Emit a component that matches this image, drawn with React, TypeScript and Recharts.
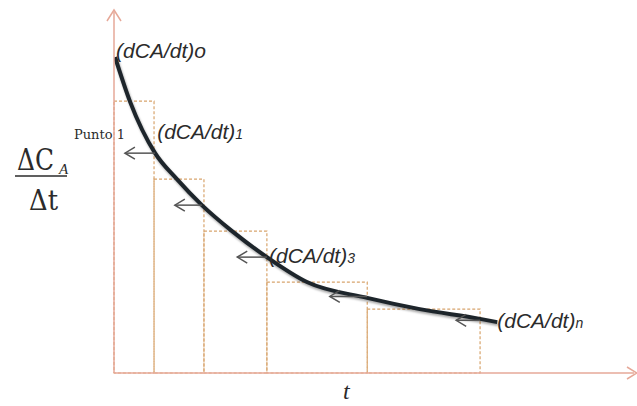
import {
  ComposedChart,
  Line,
  XAxis,
  YAxis,
  ReferenceArea,
  ReferenceLine,
  ReferenceDot,
} from 'recharts';

// step edges (t) and heights of the dashed rectangles
const barEdges = [0, 7.7, 17.3, 29.4, 48.7, 70.4];
const barHeights = [75.3, 53.7, 39.3, 25.2, 17.7];

// points
const curveT = [0.2, 3.1, 7.9, 12.1, 16.9, 22.7, 29.4, 37.1, 48.7, 58.8, 70.4, 73.7];
const curveRate = [87.5, 75.1, 60.9, 53.7, 46.5, 39.3, 32.1, 25.2, 20.8, 17.7, 15.0, 14.1];

// small left-pointing arrows
const arrowTail = [7.9, 16.9, 29.4, 48.7, 70.4];
const arrowHead = [2.1, 11.7, 23.7, 41.5, 65.8];
const arrowY = [60.9, 46.5, 32.1, 21.2, 14.6];

// curve labels
const labelT = [0.4, 8.3, 29.8, 73.7];
const labelY = [87.3, 64.8, 30.5, 12.5];
const labelSub = ['o', '1', '3', 'n'];

const data = curveT.map((t, i) => ({ t, rate: curveRate[i] }));

const AXIS = '#e6a898';
const BOX = '#d8a46c';
const INK = '#2b2b2b';
const SERIF = "'Liberation Serif', 'Times New Roman', serif";
const GREEK = "'DejaVu Serif', serif";

const ArrowShape = (p: any) => (
  <g>
    <line x1={p.x1} y1={p.y1} x2={p.x2} y2={p.y2} stroke="#555" strokeWidth={1.5} />
    <path
      d={`M${p.x2 + 10},${p.y2 - 6} L${p.x2},${p.y2} L${p.x2 + 10},${p.y2 + 6}`}
      fill="none"
      stroke="#555"
      strokeWidth={1.5}
    />
  </g>
);

const makeLabel = (sub: string) => (p: any) => (
  <text
    x={p.cx}
    y={p.cy}
    fontFamily="'Liberation Sans', Arial, sans-serif"
    fontStyle="italic"
    fontSize={21}
    fill={INK}
  >
    (dCA/dt)
    <tspan fontSize={sub === 'o' ? 21 : 14}>{sub}</tspan>
  </text>
);

const YLabel = (props: any) => {
  const x = props.viewBox.x;
  return (
    <g>
      <text
        x={x + 17}
        y={170}
        fontFamily={GREEK}
        fontSize={30}
        fill={INK}
        textLength={37}
        lengthAdjust="spacingAndGlyphs"
      >
        ΔC
      </text>
      <text x={x + 59} y={174} fontFamily={SERIF} fontSize={15} fontStyle="italic" fill={INK}>
        A
      </text>
      <line x1={x + 15} y1={176} x2={x + 67} y2={176} stroke={INK} strokeWidth={1.5} />
      <text
        x={x + 29}
        y={210}
        fontFamily={GREEK}
        fontSize={28}
        fill={INK}
        textLength={29}
        lengthAdjust="spacingAndGlyphs"
      >
        Δt
      </text>
    </g>
  );
};

const XLabel = () => (
  <text x={343} y={399} fontFamily={SERIF} fontStyle="italic" fontSize={24} fill={INK}>
    t
  </text>
);

export default function App() {
  return (
    <div style={{ position: 'absolute', left: 0, top: 0, width: 637, height: 406, background: '#fff' }}>
      <ComposedChart
        width={637}
        height={406}
        data={data}
        margin={{ top: 12, right: 3, bottom: 0, left: 0 }}
      >
        <XAxis
          dataKey="t"
          type="number"
          domain={[0, 100]}
          allowDataOverflow
          height={33}
          tick={false}
          tickLine={false}
          axisLine={{ stroke: AXIS, strokeWidth: 1.5 }}
          label={{ content: XLabel }}
        />
        <YAxis
          type="number"
          domain={[0, 100]}
          allowDataOverflow
          width={114}
          tick={false}
          tickLine={false}
          axisLine={{ stroke: AXIS, strokeWidth: 1.5 }}
          label={{ content: YLabel }}
        />
        {barHeights.map((h, i) => (
          <ReferenceArea
            key={`b${i}`}
            x1={barEdges[i]}
            x2={barEdges[i + 1]}
            y1={0}
            y2={h}
            fill="none"
            fillOpacity={0}
            stroke={BOX}
            strokeWidth={1.2}
            strokeDasharray="3 2"
            ifOverflow="visible"
          />
        ))}
        <ReferenceDot
          x={100}
          y={0}
          r={0}
          ifOverflow="visible"
          shape={(p: any) => (
            <path
              d={`M${p.cx - 7},${p.cy - 6} L${p.cx + 3},${p.cy} L${p.cx - 7},${p.cy + 6}`}
              fill="none"
              stroke={AXIS}
              strokeWidth={1.5}
            />
          )}
        />
        <ReferenceDot
          x={0}
          y={100}
          r={0}
          ifOverflow="visible"
          shape={(p: any) => (
            <path
              d={`M${p.cx - 7},${p.cy + 9} L${p.cx},${p.cy - 2} L${p.cx + 7},${p.cy + 9}`}
              fill="none"
              stroke={AXIS}
              strokeWidth={1.5}
            />
          )}
        />
        <Line
          dataKey="rate"
          type="monotone"
          stroke="#1d252b"
          strokeWidth={4}
          dot={false}
          activeDot={false}
          isAnimationActive={false}
          style={{ filter: 'drop-shadow(1px 2px 1px rgba(0,0,0,0.35))' }}
        />
        {arrowTail.map((t, i) => (
          <ReferenceLine
            key={`a${i}`}
            segment={[
              { x: t, y: arrowY[i] },
              { x: arrowHead[i], y: arrowY[i] },
            ]}
            ifOverflow="visible"
            shape={ArrowShape}
          />
        ))}
        {labelT.map((t, i) => (
          <ReferenceDot
            key={`l${i}`}
            x={t}
            y={labelY[i]}
            r={0}
            ifOverflow="visible"
            shape={makeLabel(labelSub[i])}
          />
        ))}
        <ReferenceDot
          x={-7.7}
          y={64.8}
          r={0}
          ifOverflow="visible"
          shape={(p: any) => (
            <text x={p.cx} y={p.cy} fontFamily="'DejaVu Serif', serif" fontSize={13} fill={INK}>
              Punto 1
            </text>
          )}
        />
      </ComposedChart>
    </div>
  );
}
